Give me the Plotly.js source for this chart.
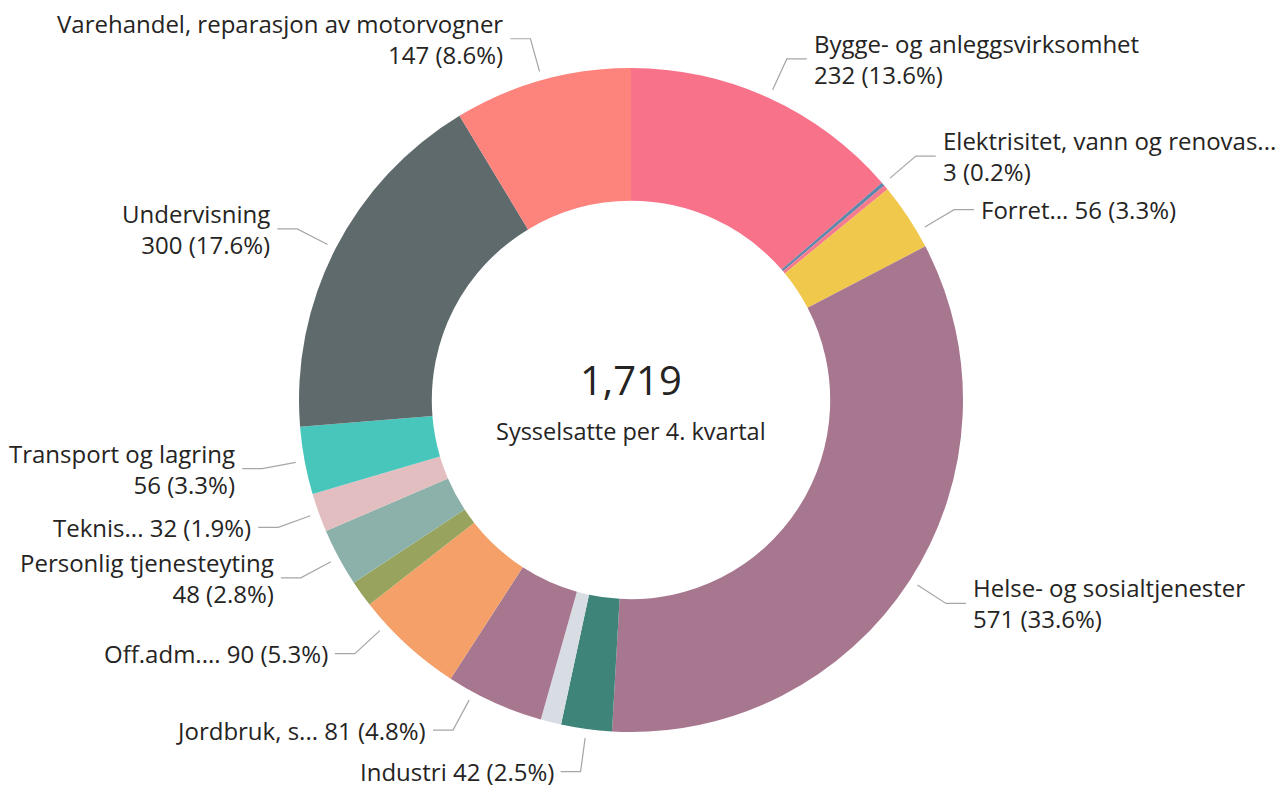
<!DOCTYPE html>
<html>
<head>
<meta charset="utf-8">
<script src="https://cdn.plot.ly/plotly-3.0.1.min.js"></script>
<style>
  html, body { margin: 0; padding: 0; background: #ffffff; }
  #chart { width: 1281px; height: 787px; }
</style>
</head>
<body>
<div id="chart"></div>
<script>
// ---------- DATA ----------
const categories = [
  "Bygge- og anleggsvirksomhet",
  "Elektrisitet, vann og renovasjon",
  "Finansierings- og forsikringsvirksomhet",
  "Forretningsmessig tjenesteyting",
  "Helse- og sosialtjenester",
  "Industri",
  "Informasjon og kommunikasjon",
  "Jordbruk, skogbruk og fiske",
  "Off.adm., forsvar, sosialforsikring",
  "Overnattings- og serveringsvirksomhet",
  "Personlig tjenesteyting",
  "Teknisk tjenesteyting, eiendomsdrift",
  "Transport og lagring",
  "Undervisning",
  "Varehandel, reparasjon av motorvogner"
];
const employed = [232, 3, 4, 56, 571, 42, 17, 81, 90, 22, 48, 32, 56, 300, 147];
// Labels as shown next to the ring ("" = slice has no label)
const displayLabels = [
  "Bygge- og anleggsvirksomhet",
  "Elektrisitet, vann og renovas...",
  "",
  "Forret...",
  "Helse- og sosialtjenester",
  "Industri",
  "",
  "Jordbruk, s...",
  "Off.adm....",
  "",
  "Personlig tjenesteyting",
  "Teknis...",
  "Transport og lagring",
  "Undervisning",
  "Varehandel, reparasjon av motorvogner"
];
const totalEmployed = 1719;
const centerSubtitle = "Sysselsatte per 4. kvartal";

// ---------- STYLE ----------
const colors = [
  "#F8728A", "#5F87AA", "#F57A8E", "#F0C84B", "#A7768F", "#3E8478", "#D8DCE3",
  "#A7768F", "#F4A068", "#98A45E", "#8CB1AB", "#E2BEC1", "#48C6BB", "#5E6A6B", "#FC847D"
];
const singleLine = new Set(["Forret...", "Industri", "Jordbruk, s...", "Off.adm....", "Teknis..."]);
const leaderNudgeDeg = { "Forret...": 3, "Jordbruk, s...": 4, "Off.adm....": 5 };

const W = 1281, H = 787;
const margin = { l: 0, r: 19, t: 68, b: 55 };
const plotW = W - margin.l - margin.r;
const plotH = H - margin.t - margin.b;
const R = Math.min(plotW, plotH) / 2;
const cx = margin.l + plotW / 2, cy = margin.t + plotH / 2;
const FONT = "'Open Sans', 'Noto Sans', sans-serif";
const textColor = "#252423";
const lineColor = "#A6A6A6";

const px2x = px => (px - margin.l) / plotW;
const py2y = py => 1 - (py - margin.t) / plotH;

const sum = employed.reduce((a, b) => a + b, 0);
const fmt = v => v.toLocaleString("en-US");

const annotations = [];
const shapes = [];
let cum = 0;
employed.forEach((v, i) => {
  const a0 = cum / sum * 360;
  cum += v;
  const a1 = cum / sum * 360;
  const name = displayLabels[i];
  if (!name) return;
  const mid = (a0 + a1) / 2 + (leaderNudgeDeg[name] || 0);
  const rad = mid * Math.PI / 180;
  const s = Math.sin(rad), c = Math.cos(rad);
  const p0 = [cx + (R + 9) * s, cy - (R + 9) * c];
  const p1 = [cx + (R + 43) * s, cy - (R + 43) * c];
  const dir = s >= 0 ? 1 : -1;
  const p2 = [p1[0] + dir * 20, p1[1]];
  shapes.push({
    type: "path", xref: "paper", yref: "paper",
    path: `M ${px2x(p0[0])},${py2y(p0[1])} L ${px2x(p1[0])},${py2y(p1[1])} L ${px2x(p2[0])},${py2y(p2[1])}`,
    line: { color: lineColor, width: 1.2 }
  });
  const pct = (v / sum * 100).toFixed(1);
  const valTxt = `${fmt(v)} (${pct}%)`;
  const txt = singleLine.has(name) ? `${name} ${valTxt}` : `${name}<br>${valTxt}`;
  annotations.push({
    xref: "paper", yref: "paper",
    x: px2x(p2[0] + dir * 5), y: py2y(p1[1]),
    xanchor: dir > 0 ? "left" : "right", yanchor: "middle",
    align: dir > 0 ? "left" : "right",
    text: txt, showarrow: false,
    font: { family: FONT, size: 24, color: textColor }
  });
});

annotations.push({
  xref: "paper", yref: "paper", x: 0.5, y: py2y(cy - 21),
  xanchor: "center", yanchor: "middle", showarrow: false,
  text: fmt(totalEmployed), font: { family: FONT, size: 40, color: textColor }
});
annotations.push({
  xref: "paper", yref: "paper", x: 0.5, y: py2y(cy + 31),
  xanchor: "center", yanchor: "middle", showarrow: false,
  text: centerSubtitle, font: { family: FONT, size: 23.5, color: textColor }
});

const trace = {
  type: "pie",
  labels: categories,
  values: employed,
  hole: 0.6,
  sort: false,
  direction: "clockwise",
  rotation: 0,
  textinfo: "none",
  marker: { colors: colors, line: { width: 0 } },
  hovertemplate: "%{label}<br>%{value} (%{percent})<extra></extra>",
  showlegend: false
};

const layout = {
  width: W, height: H,
  margin: margin,
  paper_bgcolor: "#ffffff",
  plot_bgcolor: "#ffffff",
  showlegend: false,
  font: { family: FONT, color: textColor },
  annotations: annotations,
  shapes: shapes
};

Plotly.newPlot("chart", [trace], layout, { displayModeBar: false, staticPlot: true });
</script>
</body>
</html>
